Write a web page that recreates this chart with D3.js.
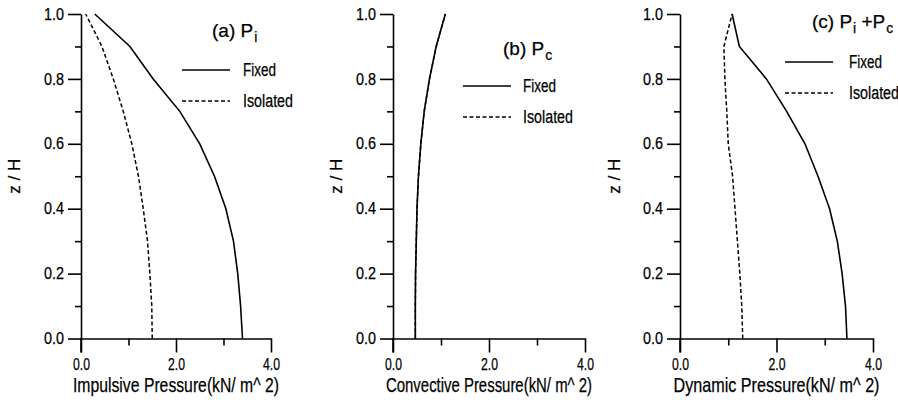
<!DOCTYPE html>
<html>
<head>
<meta charset="utf-8">
<script src="https://cdn.jsdelivr.net/npm/d3@7"></script>
<style>
  body { margin: 0; background: #fff; }
  svg { display: block; }
  text { font-family: "Liberation Sans Narrow", "Arial Narrow", "Liberation Sans", Arial, sans-serif; fill: #000; stroke: #000; stroke-width: 0.25; }
</style>
</head>
<body>
<svg id="chart" width="898" height="406"></svg>
<script>
// z/H levels, bottom to top
var zLevels = [0.0, 0.1, 0.2, 0.3, 0.4, 0.5, 0.6, 0.7, 0.8, 0.9, 1.0];

// (a) impulsive pressure, kN/m^2
var impFixed    = [3.40, 3.36, 3.30, 3.21, 3.05, 2.81, 2.50, 2.08, 1.52, 1.03, 0.29];
var impIsolated = [1.50, 1.49, 1.45, 1.40, 1.31, 1.21, 1.07, 0.89, 0.68, 0.44, 0.10];
// (b) convective pressure
var convFixed    = [0.465, 0.465, 0.47, 0.485, 0.50, 0.53, 0.58, 0.65, 0.76, 0.90, 1.09];
var convIsolated = [0.465, 0.465, 0.47, 0.485, 0.50, 0.53, 0.58, 0.65, 0.76, 0.90, 1.09];
// (c) dynamic pressure
var dynFixed    = [3.46, 3.43, 3.36, 3.26, 3.10, 2.86, 2.59, 2.21, 1.79, 1.23, 1.08];
var dynIsolated = [1.30, 1.28, 1.24, 1.19, 1.14, 1.09, 1.00, 0.97, 0.93, 0.91, 1.08];

var xMajor = [0, 2, 4];
var xMinor = [1, 3];
var yMajor = [0, 0.2, 0.4, 0.6, 0.8, 1.0];
var yMinor = [0.1, 0.3, 0.5, 0.7, 0.9];
var seriesNames = ['Fixed', 'Isolated'];

var svg = d3.select('#chart');

var panels = [
  { left: 81, right: 271, fixed: impFixed, iso: impIsolated, title: 'Impulsive Pressure(kN/ m^ 2)',
    label: [['(a) P', 0], ['i', 1]], labX: 212, labY: 37, legX: 182, legY: 70, legTx: 243, zx: 14 },
  { left: 393, right: 585, fixed: convFixed, iso: convIsolated, title: 'Convective Pressure(kN/ m^ 2)',
    label: [['(b) P', 0], ['c', 1]], labX: 503, labY: 55, legX: 463, legY: 86, legTx: 523, zx: 336 },
  { left: 680, right: 873, fixed: dynFixed, iso: dynIsolated, title: 'Dynamic Pressure(kN/ m^ 2)',
    label: [['(c) P', 0], ['i', 1], [' +P', 0], ['c', 1]], labX: 812, labY: 28, legX: 785, legY: 62, legTx: 849, zx: 614 }
];

var plotTop = 14, plotBottom = 338.5;

panels.forEach(function(p) {
  var x = d3.scaleLinear().domain([0, 4]).range([p.left, p.right]);
  var y = d3.scaleLinear().domain([0, 1]).range([plotBottom, plotTop]);
  var g = svg.append('g');

  // y axis: major and minor ticks pointing left
  var yAx = g.append('g').attr('transform', 'translate(' + p.left + ',0)')
    .call(d3.axisLeft(y).tickValues(yMajor).tickSize(13).tickSizeOuter(0).tickPadding(4)
      .tickFormat(d3.format('.1f')));
  g.append('g').attr('transform', 'translate(' + p.left + ',0)')
    .call(d3.axisLeft(y).tickValues(yMinor).tickSize(6).tickSizeOuter(0).tickFormat(''))
    .select('.domain').remove();

  // x axis at z = 0, ticks pointing down
  var xAx = g.append('g').attr('transform', 'translate(0,' + plotBottom + ')')
    .call(d3.axisBottom(x).tickValues(xMajor).tickSize(14).tickSizeOuter(0).tickPadding(6)
      .tickFormat(d3.format('.1f')));
  g.append('g').attr('transform', 'translate(0,' + plotBottom + ')')
    .call(d3.axisBottom(x).tickValues(xMinor).tickSize(7).tickSizeOuter(0).tickFormat(''))
    .select('.domain').remove();

  g.selectAll('.domain, .tick line').attr('stroke', '#000').attr('stroke-width', 1.6);
  yAx.selectAll('.tick text').attr('font-size', 16).attr('textLength', 20).attr('lengthAdjust', 'spacingAndGlyphs');
  xAx.selectAll('.tick text').attr('font-size', 16).attr('textLength', 17).attr('lengthAdjust', 'spacingAndGlyphs');
  // y axis extends down to the x tick ends
  g.append('line').attr('x1', p.left).attr('x2', p.left).attr('y1', plotBottom).attr('y2', plotBottom + 14)
    .attr('stroke', '#000').attr('stroke-width', 1.6);

  // curves
  var line = d3.line().x(function(d) { return x(d[0]); }).y(function(d) { return y(d[1]); });
  g.append('path').datum(d3.zip(p.iso, zLevels)).attr('d', line)
    .attr('fill', 'none').attr('stroke', '#000').attr('stroke-width', 1.5).attr('stroke-dasharray', '4,2.5');
  g.append('path').datum(d3.zip(p.fixed, zLevels)).attr('d', line)
    .attr('fill', 'none').attr('stroke', '#000').attr('stroke-width', 1.6);

  // axis titles
  g.append('text').attr('x', (p.left + p.right) / 2).attr('y', 392).attr('text-anchor', 'middle')
    .attr('font-size', 21).attr('textLength', 206).attr('lengthAdjust', 'spacingAndGlyphs').text(p.title);
  g.append('text').attr('transform', 'translate(' + (p.zx + 6) + ',' + ((plotTop + plotBottom) / 2) + ') rotate(-90)')
    .attr('text-anchor', 'middle').attr('font-size', 17).text('z / H');

  // panel label with subscripts
  var lab = g.append('text').attr('x', p.labX).attr('y', p.labY).attr('font-size', 19);
  p.label.forEach(function(s) {
    lab.append('tspan').attr('font-size', s[1] ? 14 : 19).attr('dy', s[1] ? 5 : (lab.selectAll('tspan').size() > 1 ? -5 : 0))
      .attr('dx', s[1] ? 1 : 0).text(s[0]);
  });

  // legend
  seriesNames.forEach(function(name, i) {
    var ly = p.legY + i * 31;
    g.append('line').attr('x1', p.legX).attr('x2', p.legX + 48).attr('y1', ly).attr('y2', ly)
      .attr('stroke', '#000').attr('stroke-width', 1.5).attr('stroke-dasharray', i ? '4,2.5' : null);
    g.append('text').attr('x', p.legTx).attr('y', ly + 6).attr('font-size', 18)
      .attr('textLength', i ? 50 : 33).attr('lengthAdjust', 'spacingAndGlyphs').text(name);
  });
});
</script>
</body>
</html>
